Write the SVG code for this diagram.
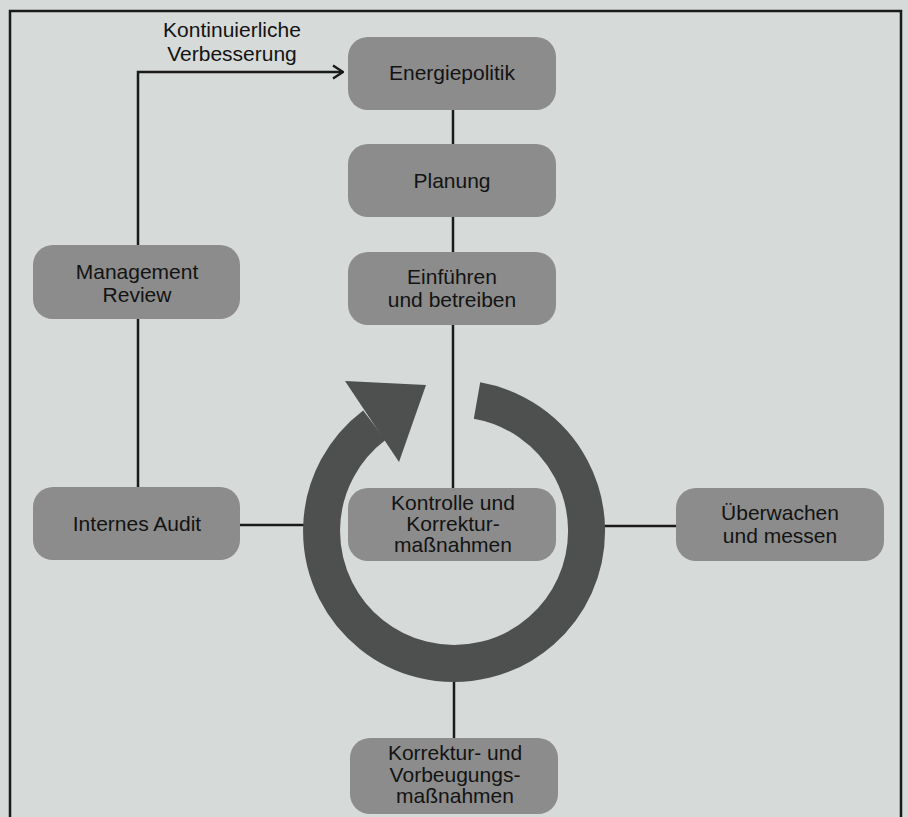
<svg xmlns="http://www.w3.org/2000/svg" width="908" height="817" viewBox="0 0 908 817">
  <defs>
    <style>
      .node rect { fill: #8b8c8b; }
      .node text, .label { font-family: "Liberation Sans", Arial, sans-serif; font-size: 21px; fill: #131313; text-anchor: middle; }
      .conn { fill: none; stroke: #1a1a1a; stroke-width: 2.5; }
      .cycle { fill: #4e4f4f; }
    </style>
    <marker id="chev" viewBox="0 0 12 16" refX="11" refY="8" markerWidth="12" markerHeight="16" markerUnits="userSpaceOnUse" orient="auto">
      <path d="M1,1.5 L11,8 L1,14.5" fill="none" stroke="#1a1a1a" stroke-width="2.5"/>
    </marker>
  </defs>

  <rect x="0" y="0" width="908" height="817" fill="#d6dad8"/>
  <path d="M10,830 V11 H901 V830" fill="none" stroke="#1a1a1a" stroke-width="2.5"/>

  <g id="connectors">
    <path class="conn" d="M138,245 V72 H343" marker-end="url(#chev)"/>
    <path class="conn" d="M453,110 V144"/>
    <path class="conn" d="M453,217 V252"/>
    <path class="conn" d="M453,325 V488"/>
    <path class="conn" d="M138,319 V487"/>
    <path class="conn" d="M240,525 H305"/>
    <path class="conn" d="M603,526 H676"/>
    <path class="conn" d="M454,680 V738"/>
  </g>

  <text class="label" x="232" y="37">Kontinuierliche</text>
  <text class="label" x="232" y="61">Verbesserung</text>

  <g id="energiepolitik" class="node">
    <rect x="348" y="37" width="208" height="73" rx="20"/>
    <text x="452" y="80">Energiepolitik</text>
  </g>
  <g id="planung" class="node">
    <rect x="348" y="144" width="208" height="73" rx="20"/>
    <text x="452" y="188">Planung</text>
  </g>
  <g id="einfuehren" class="node">
    <rect x="348" y="252" width="208" height="73" rx="20"/>
    <text x="452" y="284">Einführen</text>
    <text x="452" y="307">und betreiben</text>
  </g>
  <g id="management-review" class="node">
    <rect x="33" y="245" width="207" height="74" rx="20"/>
    <text x="137" y="279">Management</text>
    <text x="137" y="302">Review</text>
  </g>
  <g id="internes-audit" class="node">
    <rect x="33" y="487" width="207" height="73" rx="20"/>
    <text x="137" y="531">Internes Audit</text>
  </g>
  <g id="kontrolle" class="node">
    <rect x="348" y="488" width="208" height="73" rx="20"/>
    <text x="453" y="510">Kontrolle und</text>
    <text x="453" y="531">Korrektur-</text>
    <text x="453" y="552">maßnahmen</text>
  </g>
  <g id="ueberwachen" class="node">
    <rect x="676" y="488" width="208" height="73" rx="20"/>
    <text x="780" y="520">Überwachen</text>
    <text x="780" y="543">und messen</text>
  </g>
  <g id="korrektur-vorbeugung" class="node">
    <rect x="350" y="738" width="208" height="76" rx="20"/>
    <text x="455" y="760">Korrektur- und</text>
    <text x="455" y="782">Vorbeugungs-</text>
    <text x="455" y="803">maßnahmen</text>
  </g>

  <g id="cycle-arrow">
    <path d="M477,400.5 A132.5,132.5 0 1 1 374.3,425.2" fill="none" stroke="#4e4f4f" stroke-width="37"/>
    <polygon class="cycle" points="345,381 426,385 399,462"/>
  </g>
</svg>
